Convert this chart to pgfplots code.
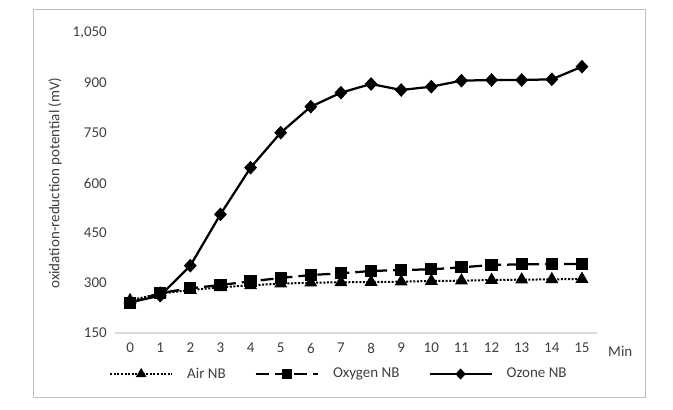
\documentclass[border=0pt]{standalone}
\usepackage{fontspec}
\setmainfont{Carlito}
\usepackage{pgfplots}
\pgfplotsset{compat=1.18}
\definecolor{txt}{HTML}{404040}
\definecolor{axl}{HTML}{D9D9D9}
\definecolor{frm}{HTML}{BFBFBF}
\begin{document}
\fontsize{15bp}{17bp}\selectfont
\begin{tikzpicture}[x=1bp,y=1bp]
\fill[white] (0,0) rectangle (673,409);
\draw[frm, line width=1bp] (33,12) rectangle (645,399);
\begin{axis}[
  at={(130.06bp,76bp)}, anchor=origin,
  scale only axis, width=482bp, height=300bp,
  xmin=-0.5, xmax=15.5, ymin=150, ymax=1050,
  xtick={0,...,15}, ytick={150,300,...,1050},
  axis line style={draw=none},
  major tick length=0pt,
  tick style={draw=none},
  /pgf/number format/assume math mode=true,
  /pgf/number format/1000 sep={,},
  ticklabel style={font=\fontsize{15bp}{17bp}\selectfont, text=txt},
  xticklabel style={yshift=-5bp},
  yticklabel style={xshift=-3bp},
  clip=false,
  legend columns=3,
  legend style={draw=none, fill=none, at={(0,0)}, anchor=west, xshift=-9bp, yshift=-41bp,
    font=\fontsize{15bp}{17bp}\selectfont, text=txt,
    /tikz/every odd column/.append style={column sep=12bp},
    /tikz/every even column/.append style={column sep=27bp}},
  legend image code/.code={\draw[mark repeat=2,mark phase=2,#1,every mark/.append style={scale=0.75}] plot coordinates {(0bp,0bp) (31bp,0bp) (62bp,0bp)};},
]
\draw[axl, line width=1.2bp] (rel axis cs:0,0) -- (rel axis cs:1,0);
\addplot[black, line width=2bp, dash pattern=on 2bp off 1.6bp, mark=triangle*, mark size=5.5bp, mark options={solid}] coordinates {
(0,248) (1,268) (2,279) (3,287) (4,293) (5,298) (6,301) (7,302) (8,303) (9,304) (10,306) (11,307) (12,309) (13,310) (14,311) (15,312)};
\addlegendentry{Air NB}
\addplot[black, line width=2.25bp, dash pattern=on 13bp off 6bp, mark=square*, mark size=5bp, mark options={solid}] coordinates {
(0,240) (1,270) (2,284) (3,294) (4,305) (5,315) (6,324) (7,329) (8,336) (9,339) (10,341) (11,347) (12,354) (13,356) (14,357) (15,357)};
\addlegendentry{Oxygen NB}
\addplot[black, line width=2.25bp, mark=diamond*, mark size=5.2bp, mark options={solid, xscale=1.25}] coordinates {
(0,242) (1,262) (2,352) (3,506) (4,646) (5,751) (6,829) (7,871) (8,897) (9,879) (10,889) (11,907) (12,909) (13,909) (14,911) (15,949)};
\addlegendentry{Ozone NB}
\node[text=txt, anchor=west] at (axis cs:15.5,150) [yshift=-18bp, xshift=6bp] {Min};
\node[xshift=-60bp, text=txt, rotate=90, font=\fontsize{15bp}{17bp}\selectfont] at (rel axis cs:0,0.5) {oxidation-reduction potential (mV)};
\end{axis}
\end{tikzpicture}
\end{document}
